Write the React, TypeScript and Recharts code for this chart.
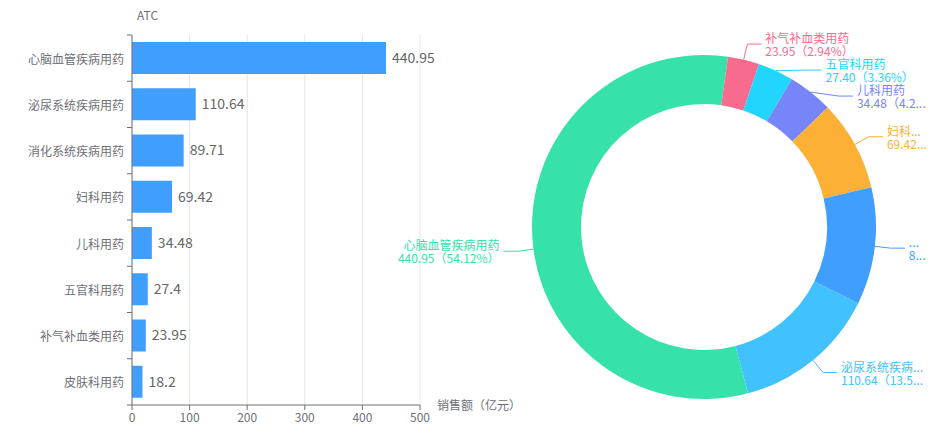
import { BarChart, Bar, XAxis, YAxis, CartesianGrid, LabelList, PieChart, Pie, Cell } from 'recharts'

const categories = [
  '心脑血管疾病用药',
  '泌尿系统疾病用药',
  '消化系统疾病用药',
  '妇科用药',
  '儿科用药',
  '五官科用药',
  '补气补血类用药',
  '皮肤科用药',
]
const sales = [440.95, 110.64, 89.71, 69.42, 34.48, 27.4, 23.95, 18.2]
const salesTicks = [0, 100, 200, 300, 400, 500]

// donut runs smallest first, palette has 7 colours so it wraps round
const pieColors = ['#37e1aa', '#f86b8e', '#22d5fd', '#7685f8', '#fdb036', '#409efe', '#41c1fe']
const pieNames = [...categories].reverse()
const pieValues = [...sales].reverse()

const FONT = '"Noto Sans CJK SC", "Microsoft YaHei", sans-serif'
const AXIS = '#6e7079'
const GRID = '#e0e6f1'

// bar chart geometry
const Y_AXIS_X = 132
const PLOT_TOP = 35
const PLOT_BOTTOM = 405
const BAND = (PLOT_BOTTOM - PLOT_TOP) / categories.length

// donut geometry (inside its own 562px box that starts at x=380)
const PIE_LEFT = 380
const PIE_CX = 324
const PIE_CY = 227
const R_OUT = 172
const R_IN = 123
const LEN1 = 16
const LEN2 = 14
const TEXT_GAP = 4
const LINE_GAP = 26
const LINE_HALF = 6.5
const PIE_RIGHT_LIMIT = 548

const barData = categories.map((name, i) => ({ name, value: sales[i] }))
const pieData = pieNames.map((name, i) => ({ name, value: pieValues[i] }))
const pieTotal = pieValues.reduce((a, b) => a + b, 0)

interface LabelPos {
  x: number
  y: number
  right: boolean
  hidden: boolean
}

// elbow points of the label lines, pushed apart when they crowd each other
function layoutLabels(): LabelPos[] {
  const r2 = R_OUT + LEN1
  let acc = 0
  const items: LabelPos[] = pieValues.map((v) => {
    const theta = ((acc + v / 2) / pieTotal) * Math.PI * 2
    acc += v
    return {
      x: PIE_CX + r2 * Math.sin(theta),
      y: PIE_CY - r2 * Math.cos(theta),
      right: Math.sin(theta) >= 0,
      hidden: v / pieTotal < 0.025,
    }
  })
  ;[true, false].forEach((side) => {
    const list = items.filter((it) => it.right === side && !it.hidden).sort((a, b) => a.y - b.y)
    for (let k = 1; k < list.length; k++) {
      const prev = list[k - 1]
      const cur = list[k]
      if (cur.y < prev.y + LINE_GAP) {
        cur.y = prev.y + LINE_GAP
        const dy = cur.y - PIE_CY
        const dx = Math.abs(dy) < r2 ? Math.sqrt(r2 * r2 - dy * dy) : 0
        cur.x = PIE_CX + (side ? dx : -dx)
      }
    }
  })
  return items
}

const labelLayout = layoutLabels()

let measureCtx: CanvasRenderingContext2D | null = null
function textWidth(s: string) {
  if (!measureCtx) {
    measureCtx = document.createElement('canvas').getContext('2d')
    if (measureCtx) measureCtx.font = `12px ${FONT}`
  }
  return measureCtx ? measureCtx.measureText(s).width : s.length * 12
}

function fit(s: string, room: number) {
  if (textWidth(s) <= room) return s
  for (let n = s.length - 1; n > 0; n--) {
    const t = s.slice(0, n) + '...'
    if (textWidth(t) <= room) return t
  }
  return '...'
}

function CategoryTick(props: any) {
  const { y, payload, index } = props
  const top = y - BAND / 2
  const bottom = y + BAND / 2
  return (
    <g>
      <line x1={Y_AXIS_X - 5} x2={Y_AXIS_X} y1={top} y2={top} stroke={AXIS} />
      {index === categories.length - 1 && (
        <line x1={Y_AXIS_X - 5} x2={Y_AXIS_X} y1={bottom} y2={bottom} stroke={AXIS} />
      )}
      <text x={Y_AXIS_X - 8} y={y} textAnchor="end" dominantBaseline="central" fill={AXIS} fontSize={12}>
        {payload.value}
      </text>
    </g>
  )
}

const RAD = Math.PI / 180

function renderPieLabel(props: any) {
  const { cx, cy, midAngle, outerRadius, index, name, value } = props
  const lay = labelLayout[index]
  if (!lay || lay.hidden) return null
  const sx = cx + outerRadius * Math.cos(-midAngle * RAD)
  const sy = cy + outerRadius * Math.sin(-midAngle * RAD)
  const dir = lay.right ? 1 : -1
  const ex = lay.x + dir * LEN2
  const tx = ex + dir * TEXT_GAP
  const color = pieColors[index % pieColors.length]
  const pct = (value / pieTotal) * 100
  const room = lay.right ? PIE_RIGHT_LIMIT - tx : tx
  const line2 = `${Number(value).toFixed(2)}（${pct.toFixed(2)}%）`
  return (
    <g>
      <polyline points={`${sx},${sy} ${lay.x},${lay.y} ${ex},${lay.y}`} fill="none" stroke={color} />
      <text
        x={tx}
        y={lay.y - LINE_HALF}
        textAnchor={lay.right ? 'start' : 'end'}
        dominantBaseline="central"
        fill={color}
        fontSize={12}
      >
        {fit(String(name), room)}
      </text>
      <text
        x={tx}
        y={lay.y + LINE_HALF}
        textAnchor={lay.right ? 'start' : 'end'}
        dominantBaseline="central"
        fill={color}
        fontSize={12}
      >
        {fit(line2, room)}
      </text>
    </g>
  )
}

export default function App() {
  return (
    <div
      style={{
        position: 'absolute',
        left: 0,
        top: 0,
        width: 942,
        height: 429,
        background: '#fff',
        fontFamily: FONT,
        overflow: 'hidden',
      }}
    >
      <div style={{ position: 'absolute', left: 0, top: 0 }}>
        <BarChart
          width={520}
          height={429}
          data={barData}
          layout="vertical"
          margin={{ top: PLOT_TOP, right: 100, bottom: 0, left: 0 }}
        >
          <CartesianGrid horizontal={false} stroke={GRID} />
          <XAxis
            type="number"
            domain={[0, 500]}
            ticks={salesTicks}
            height={24}
            axisLine={{ stroke: AXIS }}
            tickLine={{ stroke: AXIS }}
            tickSize={5}
            tickMargin={3}
            tick={{ fill: AXIS, fontSize: 12 }}
          />
          <YAxis
            type="category"
            dataKey="name"
            width={Y_AXIS_X}
            axisLine={{ stroke: AXIS }}
            tickLine={false}
            interval={0}
            tick={<CategoryTick />}
          />
          <Bar dataKey="value" fill="#409eff" barSize={32} isAnimationActive={false}>
            <LabelList dataKey="value" position="right" offset={6} fill="#666" fontSize={14} />
          </Bar>
        </BarChart>
      </div>

      <div style={{ position: 'absolute', left: PIE_LEFT, top: 0 }}>
        <PieChart width={562} height={429} margin={{ top: 0, right: 0, bottom: 0, left: 0 }}>
          <Pie
            data={pieData}
            dataKey="value"
            nameKey="name"
            cx={PIE_CX}
            cy={PIE_CY}
            innerRadius={R_IN}
            outerRadius={R_OUT}
            startAngle={90}
            endAngle={-270}
            stroke="none"
            label={renderPieLabel}
            labelLine={false}
            isAnimationActive={false}
          >
            {pieData.map((entry, i) => (
              <Cell key={`cell-${entry.name}`} fill={pieColors[i % pieColors.length]} />
            ))}
          </Pie>
        </PieChart>
      </div>

      <svg
        width={942}
        height={429}
        style={{ position: 'absolute', left: 0, top: 0, pointerEvents: 'none' }}
      >
        <text x={137} y={14} dominantBaseline="central" fill={AXIS} fontSize={12}>
          ATC
        </text>
        <text x={437} y={404} dominantBaseline="central" fill={AXIS} fontSize={12}>
          销售额（亿元）
        </text>
      </svg>
    </div>
  )
}
